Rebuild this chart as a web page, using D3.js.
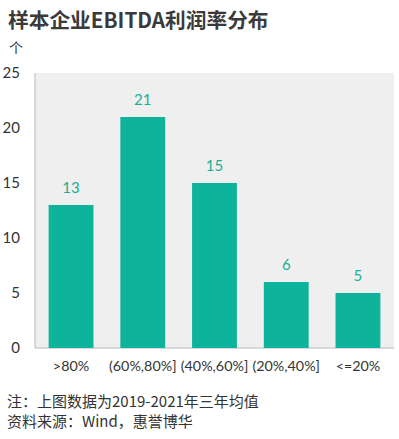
<!DOCTYPE html>
<html><head><meta charset="utf-8">
<script src="https://cdn.jsdelivr.net/npm/d3@7/dist/d3.min.js"></script>
<style>body{margin:0;background:#fff;}svg{display:block;}</style>
</head><body>
<svg id="chart" width="399" height="439"></svg>
<script>
const categories = [">80%", "(60%,80%]", "(40%,60%]", "(20%,40%]", "<=20%"];
const values = [13, 21, 15, 6, 5];
const yTicks = [0, 5, 10, 15, 20, 25];
const title = "样本企业EBITDA利润率分布";
const unit = "个";
const notes = ["注：上图数据为2019-2021年三年均值", "资料来源：Wind，惠誉博华"];

const svg = d3.select("#chart");
const font = "Lato, 'Noto Sans CJK SC', sans-serif";
const cjk = "'Noto Sans CJK SC', Lato, sans-serif";
const mLeft = 35, mRight = 394, mTop = 73, mBottom = 348;

const x = d3.scaleBand().domain(categories).range([mLeft, mRight]).paddingInner(0.375).paddingOuter(0.19);
const y = d3.scaleLinear().domain([0, 25]).range([mBottom, mTop]);

svg.append("text").attr("x", 8).attr("y", 28).text(title)
  .attr("font-family", cjk).attr("font-size", 20.7).attr("font-weight", "bold").attr("fill", "#3a3a3a");
svg.append("text").attr("x", 9).attr("y", 53).text(unit)
  .attr("font-family", cjk).attr("font-size", 14).attr("fill", "#333");

svg.append("rect").attr("x", mLeft).attr("y", mTop).attr("width", mRight - mLeft).attr("height", mBottom - mTop).attr("fill", "#efefef");

svg.append("line").attr("x1", mLeft).attr("x2", mLeft).attr("y1", mTop).attr("y2", mBottom).attr("stroke", "#b8b8b8");
svg.append("line").attr("x1", mLeft).attr("x2", mRight).attr("y1", mBottom).attr("y2", mBottom).attr("stroke", "#b8b8b8");

const ya = svg.append("g").attr("transform", `translate(${mLeft},0)`)
  .call(d3.axisLeft(y).tickValues(yTicks).tickSize(0).tickPadding(15));
ya.select(".domain").remove();
ya.selectAll("text").attr("font-family", font).attr("font-size", 15).attr("fill", "#333");

svg.selectAll(".bar").data(values).enter().append("rect").attr("class", "bar")
  .attr("x", (d, i) => x(categories[i])).attr("width", x.bandwidth())
  .attr("y", d => y(d)).attr("height", d => y(0) - y(d)).attr("fill", "#0db39a");

svg.selectAll(".lbl").data(values).enter().append("text").attr("class", "lbl")
  .attr("x", (d, i) => x(categories[i]) + x.bandwidth() / 2).attr("y", d => y(d) - 12)
  .attr("text-anchor", "middle").attr("font-family", font).attr("font-size", 15).attr("fill", "#1aae96").text(d => d);

const xa = svg.append("g").attr("transform", `translate(0,${mBottom})`)
  .call(d3.axisBottom(x).tickSize(0).tickPadding(13));
xa.select(".domain").remove();
xa.selectAll("text").attr("font-family", font).attr("font-size", 14.3).attr("fill", "#333");

notes.forEach((n, i) => {
  svg.append("text").attr("x", 7).attr("y", 407 + i * 20).text(n)
    .attr("font-family", cjk).attr("font-size", 15).attr("fill", "#333");
});
</script>
</body></html>
